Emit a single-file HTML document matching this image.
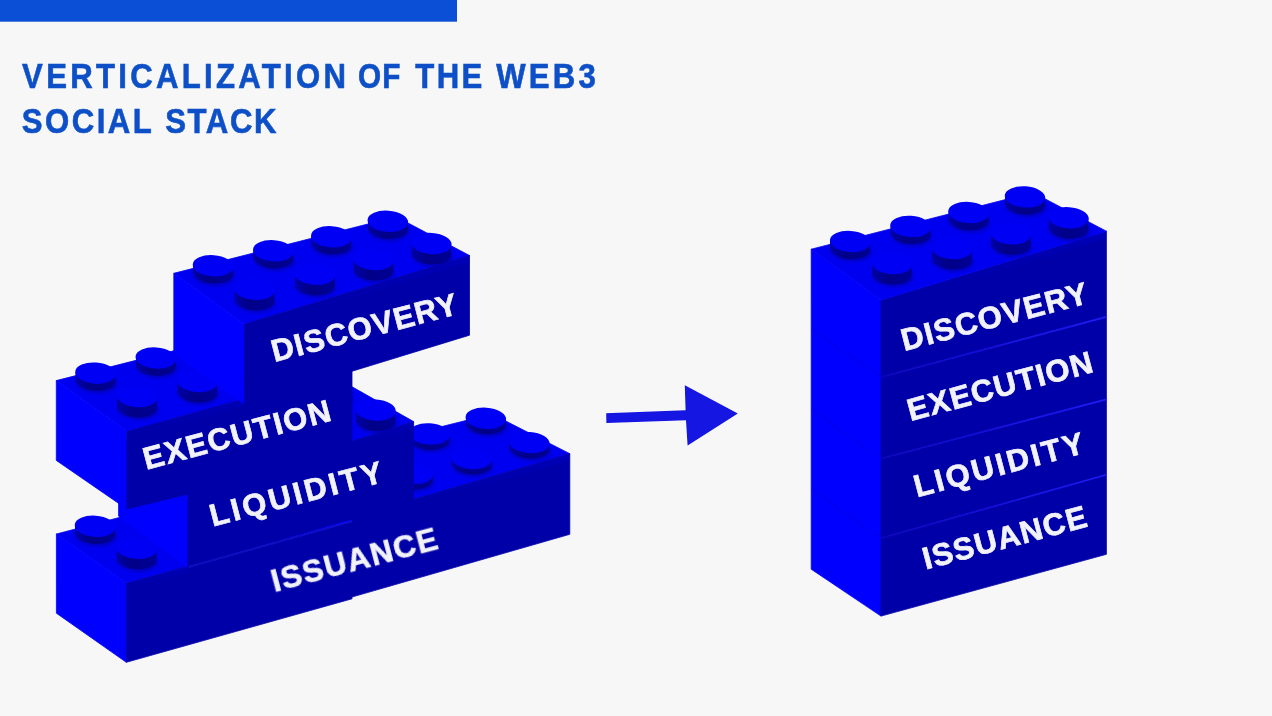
<!DOCTYPE html>
<html><head><meta charset="utf-8"><title>Verticalization of the Web3 Social Stack</title>
<style>
html,body{margin:0;padding:0;background:#f7f7f7;}
body{width:1272px;height:716px;overflow:hidden;font-family:"Liberation Sans",sans-serif;}
svg{display:block;position:absolute;left:0;top:0;}
text{font-family:"Liberation Sans",sans-serif;font-weight:bold;}
</style></head><body>
<svg width="1272" height="716" viewBox="0 0 1272 716">
<defs>
<filter id="b2" x="-30%" y="-30%" width="160%" height="160%"><feGaussianBlur stdDeviation="1.5"/></filter>
<filter id="b3" x="-10%" y="-20%" width="120%" height="140%"><feGaussianBlur stdDeviation="0.7"/></filter>
<filter id="b1" x="-5%" y="-5%" width="110%" height="110%"><feGaussianBlur stdDeviation="0.55"/></filter>
<filter id="bt" x="-5%" y="-20%" width="110%" height="140%"><feGaussianBlur stdDeviation="0.45"/></filter>
<linearGradient id="gs" x1="0" y1="0" x2="1" y2="0"><stop offset="0" stop-color="#0000a8"/><stop offset=".4" stop-color="#000088"/><stop offset="1" stop-color="#000094"/></linearGradient>
<linearGradient id="gb" x1="0" y1="0" x2="0.3" y2="1"><stop offset="0" stop-color="#0000e0"/><stop offset="1" stop-color="#0500a8" stop-opacity="0"/></linearGradient>
<linearGradient id="gsm" x1="0" y1="0" x2="1" y2="0"><stop offset="0" stop-color="#1818f8" stop-opacity=".25"/><stop offset=".5" stop-color="#1c1cff" stop-opacity=".6"/><stop offset="1" stop-color="#2020ff" stop-opacity=".9"/></linearGradient>
</defs>
<rect width="1272" height="716" fill="#f7f7f7"/>
<rect x="0" y="0" width="457" height="21.7" fill="#0b4fd6"/>

<g filter="url(#bt)">
<text transform="translate(22.30 87.8) scale(0.9000 1)" x="-0.21" y="0" font-size="34.6" letter-spacing="3.654" fill="#0e50c6" stroke="#0e50c6" stroke-width=".6">VERTICALIZATION</text>
<text transform="translate(359.10 87.8) scale(0.8592 1)" x="-1.42" y="0" font-size="34.6" letter-spacing="1.513" fill="#0e50c6" stroke="#0e50c6" stroke-width=".6">OF</text>
<text transform="translate(415.70 87.8) scale(0.9000 1)" x="-0.38" y="0" font-size="34.6" letter-spacing="2.598" fill="#0e50c6" stroke="#0e50c6" stroke-width=".6">THE</text>
<text transform="translate(496.20 87.8) scale(0.9000 1)" x="-0.03" y="0" font-size="34.6" letter-spacing="3.614" fill="#0e50c6" stroke="#0e50c6" stroke-width=".6">WEB3</text>
<text transform="translate(22.60 132.7) scale(0.9000 1)" x="-0.97" y="0" font-size="34.6" letter-spacing="2.769" fill="#0e50c6" stroke="#0e50c6" stroke-width=".6">SOCIAL</text>
<text transform="translate(166.00 132.7) scale(0.9000 1)" x="-0.97" y="0" font-size="34.6" letter-spacing="1.781" fill="#0e50c6" stroke="#0e50c6" stroke-width=".6">STACK</text>
</g>
<g filter="url(#b1)">
<polygon points="274.3,468.4 492.0,414.0 569.8,453.7 344.8,519.4" fill="#0000f1" stroke="#0000f1" stroke-width="0.8"/>
<polygon points="274.3,468.4 344.8,519.4 344.8,599.1 274.3,548.1" fill="#0000fe" stroke="#0000fe" stroke-width="0.8"/>
<polygon points="344.8,519.4 569.8,453.7 569.8,534.3 344.8,599.1" fill="#0500a8" stroke="#0500a8" stroke-width="0.8"/>
<polygon points="413.6,499.3 569.8,453.7 569.8,460.7 413.6,506.3" fill="url(#gb)" opacity=".55"/>
<g filter="url(#b2)">
<ellipse cx="312.0" cy="470.5" rx="21.0" ry="11.0" transform="rotate(4 311.0 468.7)" fill="#0000a8" opacity=".6"/>
</g><g filter="url(#b3)">
<g fill="url(#gs)"><ellipse cx="311.0" cy="468.70" rx="19.8" ry="10.20" transform="rotate(4 311.0 468.70)"/><ellipse cx="311.0" cy="468.12" rx="19.8" ry="10.20" transform="rotate(4 311.0 468.12)"/><ellipse cx="311.0" cy="467.54" rx="19.8" ry="10.20" transform="rotate(4 311.0 467.54)"/><ellipse cx="311.0" cy="466.96" rx="19.8" ry="10.20" transform="rotate(4 311.0 466.96)"/><ellipse cx="311.0" cy="466.38" rx="19.8" ry="10.20" transform="rotate(4 311.0 466.38)"/><ellipse cx="311.0" cy="465.80" rx="19.8" ry="10.20" transform="rotate(4 311.0 465.80)"/><ellipse cx="311.0" cy="465.22" rx="19.8" ry="10.20" transform="rotate(4 311.0 465.22)"/><ellipse cx="311.0" cy="464.64" rx="19.8" ry="10.20" transform="rotate(4 311.0 464.64)"/><ellipse cx="311.0" cy="464.06" rx="19.8" ry="10.20" transform="rotate(4 311.0 464.06)"/><ellipse cx="311.0" cy="463.48" rx="19.8" ry="10.20" transform="rotate(4 311.0 463.48)"/></g></g>
<ellipse cx="311.0" cy="462.9" rx="20.3" ry="10.6" transform="rotate(4 311.0 462.9)" fill="#0000f5"/>
<g filter="url(#b2)">
<ellipse cx="372.3" cy="455.4" rx="21.0" ry="11.0" transform="rotate(4 371.3 453.6)" fill="#0000a8" opacity=".6"/>
</g><g filter="url(#b3)">
<g fill="url(#gs)"><ellipse cx="371.3" cy="453.60" rx="19.8" ry="10.20" transform="rotate(4 371.3 453.60)"/><ellipse cx="371.3" cy="453.02" rx="19.8" ry="10.20" transform="rotate(4 371.3 453.02)"/><ellipse cx="371.3" cy="452.44" rx="19.8" ry="10.20" transform="rotate(4 371.3 452.44)"/><ellipse cx="371.3" cy="451.86" rx="19.8" ry="10.20" transform="rotate(4 371.3 451.86)"/><ellipse cx="371.3" cy="451.28" rx="19.8" ry="10.20" transform="rotate(4 371.3 451.28)"/><ellipse cx="371.3" cy="450.70" rx="19.8" ry="10.20" transform="rotate(4 371.3 450.70)"/><ellipse cx="371.3" cy="450.12" rx="19.8" ry="10.20" transform="rotate(4 371.3 450.12)"/><ellipse cx="371.3" cy="449.54" rx="19.8" ry="10.20" transform="rotate(4 371.3 449.54)"/><ellipse cx="371.3" cy="448.96" rx="19.8" ry="10.20" transform="rotate(4 371.3 448.96)"/><ellipse cx="371.3" cy="448.38" rx="19.8" ry="10.20" transform="rotate(4 371.3 448.38)"/></g></g>
<ellipse cx="371.3" cy="447.8" rx="20.3" ry="10.6" transform="rotate(4 371.3 447.8)" fill="#0000f5"/>
<g filter="url(#b2)">
<ellipse cx="430.3" cy="441.5" rx="21.0" ry="11.0" transform="rotate(4 429.3 439.7)" fill="#0000a8" opacity=".6"/>
</g><g filter="url(#b3)">
<g fill="url(#gs)"><ellipse cx="429.3" cy="439.70" rx="19.8" ry="10.20" transform="rotate(4 429.3 439.70)"/><ellipse cx="429.3" cy="439.12" rx="19.8" ry="10.20" transform="rotate(4 429.3 439.12)"/><ellipse cx="429.3" cy="438.54" rx="19.8" ry="10.20" transform="rotate(4 429.3 438.54)"/><ellipse cx="429.3" cy="437.96" rx="19.8" ry="10.20" transform="rotate(4 429.3 437.96)"/><ellipse cx="429.3" cy="437.38" rx="19.8" ry="10.20" transform="rotate(4 429.3 437.38)"/><ellipse cx="429.3" cy="436.80" rx="19.8" ry="10.20" transform="rotate(4 429.3 436.80)"/><ellipse cx="429.3" cy="436.22" rx="19.8" ry="10.20" transform="rotate(4 429.3 436.22)"/><ellipse cx="429.3" cy="435.64" rx="19.8" ry="10.20" transform="rotate(4 429.3 435.64)"/><ellipse cx="429.3" cy="435.06" rx="19.8" ry="10.20" transform="rotate(4 429.3 435.06)"/><ellipse cx="429.3" cy="434.48" rx="19.8" ry="10.20" transform="rotate(4 429.3 434.48)"/></g></g>
<ellipse cx="429.3" cy="433.9" rx="20.3" ry="10.6" transform="rotate(4 429.3 433.9)" fill="#0000f5"/>
<g filter="url(#b2)">
<ellipse cx="486.8" cy="425.9" rx="21.0" ry="11.0" transform="rotate(4 485.8 424.1)" fill="#0000a8" opacity=".6"/>
</g><g filter="url(#b3)">
<g fill="url(#gs)"><ellipse cx="485.8" cy="424.10" rx="19.8" ry="10.20" transform="rotate(4 485.8 424.10)"/><ellipse cx="485.8" cy="423.52" rx="19.8" ry="10.20" transform="rotate(4 485.8 423.52)"/><ellipse cx="485.8" cy="422.94" rx="19.8" ry="10.20" transform="rotate(4 485.8 422.94)"/><ellipse cx="485.8" cy="422.36" rx="19.8" ry="10.20" transform="rotate(4 485.8 422.36)"/><ellipse cx="485.8" cy="421.78" rx="19.8" ry="10.20" transform="rotate(4 485.8 421.78)"/><ellipse cx="485.8" cy="421.20" rx="19.8" ry="10.20" transform="rotate(4 485.8 421.20)"/><ellipse cx="485.8" cy="420.62" rx="19.8" ry="10.20" transform="rotate(4 485.8 420.62)"/><ellipse cx="485.8" cy="420.04" rx="19.8" ry="10.20" transform="rotate(4 485.8 420.04)"/><ellipse cx="485.8" cy="419.46" rx="19.8" ry="10.20" transform="rotate(4 485.8 419.46)"/><ellipse cx="485.8" cy="418.88" rx="19.8" ry="10.20" transform="rotate(4 485.8 418.88)"/></g></g>
<ellipse cx="485.8" cy="418.3" rx="20.3" ry="10.6" transform="rotate(4 485.8 418.3)" fill="#0000f5"/>
<g filter="url(#b2)">
<ellipse cx="353.5" cy="496.0" rx="21.0" ry="11.0" transform="rotate(4 352.5 494.2)" fill="#0000a8" opacity=".6"/>
</g><g filter="url(#b3)">
<g fill="url(#gs)"><ellipse cx="352.5" cy="494.20" rx="19.8" ry="10.20" transform="rotate(4 352.5 494.20)"/><ellipse cx="352.5" cy="493.62" rx="19.8" ry="10.20" transform="rotate(4 352.5 493.62)"/><ellipse cx="352.5" cy="493.04" rx="19.8" ry="10.20" transform="rotate(4 352.5 493.04)"/><ellipse cx="352.5" cy="492.46" rx="19.8" ry="10.20" transform="rotate(4 352.5 492.46)"/><ellipse cx="352.5" cy="491.88" rx="19.8" ry="10.20" transform="rotate(4 352.5 491.88)"/><ellipse cx="352.5" cy="491.30" rx="19.8" ry="10.20" transform="rotate(4 352.5 491.30)"/><ellipse cx="352.5" cy="490.72" rx="19.8" ry="10.20" transform="rotate(4 352.5 490.72)"/><ellipse cx="352.5" cy="490.14" rx="19.8" ry="10.20" transform="rotate(4 352.5 490.14)"/><ellipse cx="352.5" cy="489.56" rx="19.8" ry="10.20" transform="rotate(4 352.5 489.56)"/><ellipse cx="352.5" cy="488.98" rx="19.8" ry="10.20" transform="rotate(4 352.5 488.98)"/></g></g>
<ellipse cx="352.5" cy="488.4" rx="20.3" ry="10.6" transform="rotate(4 352.5 488.4)" fill="#0000f5"/>
<g filter="url(#b2)">
<ellipse cx="413.8" cy="481.0" rx="21.0" ry="11.0" transform="rotate(4 412.8 479.2)" fill="#0000a8" opacity=".6"/>
</g><g filter="url(#b3)">
<g fill="url(#gs)"><ellipse cx="412.8" cy="479.20" rx="19.8" ry="10.20" transform="rotate(4 412.8 479.20)"/><ellipse cx="412.8" cy="478.62" rx="19.8" ry="10.20" transform="rotate(4 412.8 478.62)"/><ellipse cx="412.8" cy="478.04" rx="19.8" ry="10.20" transform="rotate(4 412.8 478.04)"/><ellipse cx="412.8" cy="477.46" rx="19.8" ry="10.20" transform="rotate(4 412.8 477.46)"/><ellipse cx="412.8" cy="476.88" rx="19.8" ry="10.20" transform="rotate(4 412.8 476.88)"/><ellipse cx="412.8" cy="476.30" rx="19.8" ry="10.20" transform="rotate(4 412.8 476.30)"/><ellipse cx="412.8" cy="475.72" rx="19.8" ry="10.20" transform="rotate(4 412.8 475.72)"/><ellipse cx="412.8" cy="475.14" rx="19.8" ry="10.20" transform="rotate(4 412.8 475.14)"/><ellipse cx="412.8" cy="474.56" rx="19.8" ry="10.20" transform="rotate(4 412.8 474.56)"/><ellipse cx="412.8" cy="473.98" rx="19.8" ry="10.20" transform="rotate(4 412.8 473.98)"/></g></g>
<ellipse cx="412.8" cy="473.4" rx="20.3" ry="10.6" transform="rotate(4 412.8 473.4)" fill="#0000f5"/>
<g filter="url(#b2)">
<ellipse cx="472.5" cy="466.2" rx="21.0" ry="11.0" transform="rotate(4 471.5 464.4)" fill="#0000a8" opacity=".6"/>
</g><g filter="url(#b3)">
<g fill="url(#gs)"><ellipse cx="471.5" cy="464.40" rx="19.8" ry="10.20" transform="rotate(4 471.5 464.40)"/><ellipse cx="471.5" cy="463.82" rx="19.8" ry="10.20" transform="rotate(4 471.5 463.82)"/><ellipse cx="471.5" cy="463.24" rx="19.8" ry="10.20" transform="rotate(4 471.5 463.24)"/><ellipse cx="471.5" cy="462.66" rx="19.8" ry="10.20" transform="rotate(4 471.5 462.66)"/><ellipse cx="471.5" cy="462.08" rx="19.8" ry="10.20" transform="rotate(4 471.5 462.08)"/><ellipse cx="471.5" cy="461.50" rx="19.8" ry="10.20" transform="rotate(4 471.5 461.50)"/><ellipse cx="471.5" cy="460.92" rx="19.8" ry="10.20" transform="rotate(4 471.5 460.92)"/><ellipse cx="471.5" cy="460.34" rx="19.8" ry="10.20" transform="rotate(4 471.5 460.34)"/><ellipse cx="471.5" cy="459.76" rx="19.8" ry="10.20" transform="rotate(4 471.5 459.76)"/><ellipse cx="471.5" cy="459.18" rx="19.8" ry="10.20" transform="rotate(4 471.5 459.18)"/></g></g>
<ellipse cx="471.5" cy="458.6" rx="20.3" ry="10.6" transform="rotate(4 471.5 458.6)" fill="#0000f5"/>
<g filter="url(#b2)">
<ellipse cx="530.3" cy="450.2" rx="21.0" ry="11.0" transform="rotate(4 529.3 448.4)" fill="#0000a8" opacity=".6"/>
</g><g filter="url(#b3)">
<g fill="url(#gs)"><ellipse cx="529.3" cy="448.40" rx="19.8" ry="10.20" transform="rotate(4 529.3 448.40)"/><ellipse cx="529.3" cy="447.82" rx="19.8" ry="10.20" transform="rotate(4 529.3 447.82)"/><ellipse cx="529.3" cy="447.24" rx="19.8" ry="10.20" transform="rotate(4 529.3 447.24)"/><ellipse cx="529.3" cy="446.66" rx="19.8" ry="10.20" transform="rotate(4 529.3 446.66)"/><ellipse cx="529.3" cy="446.08" rx="19.8" ry="10.20" transform="rotate(4 529.3 446.08)"/><ellipse cx="529.3" cy="445.50" rx="19.8" ry="10.20" transform="rotate(4 529.3 445.50)"/><ellipse cx="529.3" cy="444.92" rx="19.8" ry="10.20" transform="rotate(4 529.3 444.92)"/><ellipse cx="529.3" cy="444.34" rx="19.8" ry="10.20" transform="rotate(4 529.3 444.34)"/><ellipse cx="529.3" cy="443.76" rx="19.8" ry="10.20" transform="rotate(4 529.3 443.76)"/><ellipse cx="529.3" cy="443.18" rx="19.8" ry="10.20" transform="rotate(4 529.3 443.18)"/></g></g>
<ellipse cx="529.3" cy="442.6" rx="20.3" ry="10.6" transform="rotate(4 529.3 442.6)" fill="#0000f5"/>
<polygon points="56.4,534.0 278.3,475.8 352.0,521.3 126.3,583.3" fill="#0000f1" stroke="#0000f1" stroke-width="0.8"/>
<polygon points="56.4,534.0 126.3,583.3 126.3,662.3 56.4,613.2" fill="#0000fe" stroke="#0000fe" stroke-width="0.8"/>
<polygon points="126.3,583.3 352.0,521.3 352.0,598.8 126.3,662.3" fill="#0500a8" stroke="#0500a8" stroke-width="0.8"/>
<polygon points="126.3,583.3 188.4,566.2 188.4,573.2 126.3,590.3" fill="url(#gb)" opacity=".55"/>
<g filter="url(#b2)">
<ellipse cx="96.0" cy="535.6" rx="21.0" ry="11.0" transform="rotate(4 95.0 533.8)" fill="#0000a8" opacity=".6"/>
</g><g filter="url(#b3)">
<g fill="url(#gs)"><ellipse cx="95.0" cy="533.80" rx="19.8" ry="10.20" transform="rotate(4 95.0 533.80)"/><ellipse cx="95.0" cy="533.05" rx="19.8" ry="10.20" transform="rotate(4 95.0 533.05)"/><ellipse cx="95.0" cy="532.30" rx="19.8" ry="10.20" transform="rotate(4 95.0 532.30)"/><ellipse cx="95.0" cy="531.55" rx="19.8" ry="10.20" transform="rotate(4 95.0 531.55)"/><ellipse cx="95.0" cy="530.80" rx="19.8" ry="10.20" transform="rotate(4 95.0 530.80)"/><ellipse cx="95.0" cy="530.05" rx="19.8" ry="10.20" transform="rotate(4 95.0 530.05)"/><ellipse cx="95.0" cy="529.30" rx="19.8" ry="10.20" transform="rotate(4 95.0 529.30)"/><ellipse cx="95.0" cy="528.55" rx="19.8" ry="10.20" transform="rotate(4 95.0 528.55)"/><ellipse cx="95.0" cy="527.80" rx="19.8" ry="10.20" transform="rotate(4 95.0 527.80)"/><ellipse cx="95.0" cy="527.05" rx="19.8" ry="10.20" transform="rotate(4 95.0 527.05)"/></g></g>
<ellipse cx="95.0" cy="526.3" rx="20.3" ry="10.6" transform="rotate(4 95.0 526.3)" fill="#0000f5"/>
<g filter="url(#b2)">
<ellipse cx="156.3" cy="520.5" rx="21.0" ry="11.0" transform="rotate(4 155.3 518.7)" fill="#0000a8" opacity=".6"/>
</g><g filter="url(#b3)">
<g fill="url(#gs)"><ellipse cx="155.3" cy="518.70" rx="19.8" ry="10.20" transform="rotate(4 155.3 518.70)"/><ellipse cx="155.3" cy="517.95" rx="19.8" ry="10.20" transform="rotate(4 155.3 517.95)"/><ellipse cx="155.3" cy="517.20" rx="19.8" ry="10.20" transform="rotate(4 155.3 517.20)"/><ellipse cx="155.3" cy="516.45" rx="19.8" ry="10.20" transform="rotate(4 155.3 516.45)"/><ellipse cx="155.3" cy="515.70" rx="19.8" ry="10.20" transform="rotate(4 155.3 515.70)"/><ellipse cx="155.3" cy="514.95" rx="19.8" ry="10.20" transform="rotate(4 155.3 514.95)"/><ellipse cx="155.3" cy="514.20" rx="19.8" ry="10.20" transform="rotate(4 155.3 514.20)"/><ellipse cx="155.3" cy="513.45" rx="19.8" ry="10.20" transform="rotate(4 155.3 513.45)"/><ellipse cx="155.3" cy="512.70" rx="19.8" ry="10.20" transform="rotate(4 155.3 512.70)"/><ellipse cx="155.3" cy="511.95" rx="19.8" ry="10.20" transform="rotate(4 155.3 511.95)"/></g></g>
<ellipse cx="155.3" cy="511.2" rx="20.3" ry="10.6" transform="rotate(4 155.3 511.2)" fill="#0000f5"/>
<g filter="url(#b2)">
<ellipse cx="214.3" cy="506.6" rx="21.0" ry="11.0" transform="rotate(4 213.3 504.8)" fill="#0000a8" opacity=".6"/>
</g><g filter="url(#b3)">
<g fill="url(#gs)"><ellipse cx="213.3" cy="504.80" rx="19.8" ry="10.20" transform="rotate(4 213.3 504.80)"/><ellipse cx="213.3" cy="504.05" rx="19.8" ry="10.20" transform="rotate(4 213.3 504.05)"/><ellipse cx="213.3" cy="503.30" rx="19.8" ry="10.20" transform="rotate(4 213.3 503.30)"/><ellipse cx="213.3" cy="502.55" rx="19.8" ry="10.20" transform="rotate(4 213.3 502.55)"/><ellipse cx="213.3" cy="501.80" rx="19.8" ry="10.20" transform="rotate(4 213.3 501.80)"/><ellipse cx="213.3" cy="501.05" rx="19.8" ry="10.20" transform="rotate(4 213.3 501.05)"/><ellipse cx="213.3" cy="500.30" rx="19.8" ry="10.20" transform="rotate(4 213.3 500.30)"/><ellipse cx="213.3" cy="499.55" rx="19.8" ry="10.20" transform="rotate(4 213.3 499.55)"/><ellipse cx="213.3" cy="498.80" rx="19.8" ry="10.20" transform="rotate(4 213.3 498.80)"/><ellipse cx="213.3" cy="498.05" rx="19.8" ry="10.20" transform="rotate(4 213.3 498.05)"/></g></g>
<ellipse cx="213.3" cy="497.3" rx="20.3" ry="10.6" transform="rotate(4 213.3 497.3)" fill="#0000f5"/>
<g filter="url(#b2)">
<ellipse cx="270.8" cy="491.0" rx="21.0" ry="11.0" transform="rotate(4 269.8 489.2)" fill="#0000a8" opacity=".6"/>
</g><g filter="url(#b3)">
<g fill="url(#gs)"><ellipse cx="269.8" cy="489.20" rx="19.8" ry="10.20" transform="rotate(4 269.8 489.20)"/><ellipse cx="269.8" cy="488.45" rx="19.8" ry="10.20" transform="rotate(4 269.8 488.45)"/><ellipse cx="269.8" cy="487.70" rx="19.8" ry="10.20" transform="rotate(4 269.8 487.70)"/><ellipse cx="269.8" cy="486.95" rx="19.8" ry="10.20" transform="rotate(4 269.8 486.95)"/><ellipse cx="269.8" cy="486.20" rx="19.8" ry="10.20" transform="rotate(4 269.8 486.20)"/><ellipse cx="269.8" cy="485.45" rx="19.8" ry="10.20" transform="rotate(4 269.8 485.45)"/><ellipse cx="269.8" cy="484.70" rx="19.8" ry="10.20" transform="rotate(4 269.8 484.70)"/><ellipse cx="269.8" cy="483.95" rx="19.8" ry="10.20" transform="rotate(4 269.8 483.95)"/><ellipse cx="269.8" cy="483.20" rx="19.8" ry="10.20" transform="rotate(4 269.8 483.20)"/><ellipse cx="269.8" cy="482.45" rx="19.8" ry="10.20" transform="rotate(4 269.8 482.45)"/></g></g>
<ellipse cx="269.8" cy="481.7" rx="20.3" ry="10.6" transform="rotate(4 269.8 481.7)" fill="#0000f5"/>
<g filter="url(#b2)">
<ellipse cx="137.5" cy="560.9" rx="21.0" ry="11.0" transform="rotate(4 136.5 559.1)" fill="#0000a8" opacity=".6"/>
</g><g filter="url(#b3)">
<g fill="url(#gs)"><ellipse cx="136.5" cy="559.10" rx="19.8" ry="10.20" transform="rotate(4 136.5 559.10)"/><ellipse cx="136.5" cy="558.02" rx="19.8" ry="10.20" transform="rotate(4 136.5 558.02)"/><ellipse cx="136.5" cy="556.94" rx="19.8" ry="10.20" transform="rotate(4 136.5 556.94)"/><ellipse cx="136.5" cy="555.86" rx="19.8" ry="10.20" transform="rotate(4 136.5 555.86)"/><ellipse cx="136.5" cy="554.78" rx="19.8" ry="10.20" transform="rotate(4 136.5 554.78)"/><ellipse cx="136.5" cy="553.70" rx="19.8" ry="10.20" transform="rotate(4 136.5 553.70)"/><ellipse cx="136.5" cy="552.62" rx="19.8" ry="10.20" transform="rotate(4 136.5 552.62)"/><ellipse cx="136.5" cy="551.54" rx="19.8" ry="10.20" transform="rotate(4 136.5 551.54)"/><ellipse cx="136.5" cy="550.46" rx="19.8" ry="10.20" transform="rotate(4 136.5 550.46)"/><ellipse cx="136.5" cy="549.38" rx="19.8" ry="10.20" transform="rotate(4 136.5 549.38)"/></g></g>
<ellipse cx="136.5" cy="548.3" rx="20.3" ry="10.6" transform="rotate(4 136.5 548.3)" fill="#0000f5"/>
<g filter="url(#b2)">
<ellipse cx="197.8" cy="545.9" rx="21.0" ry="11.0" transform="rotate(4 196.8 544.1)" fill="#0000a8" opacity=".6"/>
</g><g filter="url(#b3)">
<g fill="url(#gs)"><ellipse cx="196.8" cy="544.10" rx="19.8" ry="10.20" transform="rotate(4 196.8 544.10)"/><ellipse cx="196.8" cy="543.02" rx="19.8" ry="10.20" transform="rotate(4 196.8 543.02)"/><ellipse cx="196.8" cy="541.94" rx="19.8" ry="10.20" transform="rotate(4 196.8 541.94)"/><ellipse cx="196.8" cy="540.86" rx="19.8" ry="10.20" transform="rotate(4 196.8 540.86)"/><ellipse cx="196.8" cy="539.78" rx="19.8" ry="10.20" transform="rotate(4 196.8 539.78)"/><ellipse cx="196.8" cy="538.70" rx="19.8" ry="10.20" transform="rotate(4 196.8 538.70)"/><ellipse cx="196.8" cy="537.62" rx="19.8" ry="10.20" transform="rotate(4 196.8 537.62)"/><ellipse cx="196.8" cy="536.54" rx="19.8" ry="10.20" transform="rotate(4 196.8 536.54)"/><ellipse cx="196.8" cy="535.46" rx="19.8" ry="10.20" transform="rotate(4 196.8 535.46)"/><ellipse cx="196.8" cy="534.38" rx="19.8" ry="10.20" transform="rotate(4 196.8 534.38)"/></g></g>
<ellipse cx="196.8" cy="533.3" rx="20.3" ry="10.6" transform="rotate(4 196.8 533.3)" fill="#0000f5"/>
<g filter="url(#b2)">
<ellipse cx="256.5" cy="531.1" rx="21.0" ry="11.0" transform="rotate(4 255.5 529.3)" fill="#0000a8" opacity=".6"/>
</g><g filter="url(#b3)">
<g fill="url(#gs)"><ellipse cx="255.5" cy="529.30" rx="19.8" ry="10.20" transform="rotate(4 255.5 529.30)"/><ellipse cx="255.5" cy="528.22" rx="19.8" ry="10.20" transform="rotate(4 255.5 528.22)"/><ellipse cx="255.5" cy="527.14" rx="19.8" ry="10.20" transform="rotate(4 255.5 527.14)"/><ellipse cx="255.5" cy="526.06" rx="19.8" ry="10.20" transform="rotate(4 255.5 526.06)"/><ellipse cx="255.5" cy="524.98" rx="19.8" ry="10.20" transform="rotate(4 255.5 524.98)"/><ellipse cx="255.5" cy="523.90" rx="19.8" ry="10.20" transform="rotate(4 255.5 523.90)"/><ellipse cx="255.5" cy="522.82" rx="19.8" ry="10.20" transform="rotate(4 255.5 522.82)"/><ellipse cx="255.5" cy="521.74" rx="19.8" ry="10.20" transform="rotate(4 255.5 521.74)"/><ellipse cx="255.5" cy="520.66" rx="19.8" ry="10.20" transform="rotate(4 255.5 520.66)"/><ellipse cx="255.5" cy="519.58" rx="19.8" ry="10.20" transform="rotate(4 255.5 519.58)"/></g></g>
<ellipse cx="255.5" cy="518.5" rx="20.3" ry="10.6" transform="rotate(4 255.5 518.5)" fill="#0000f5"/>
<g filter="url(#b2)">
<ellipse cx="314.3" cy="515.1" rx="21.0" ry="11.0" transform="rotate(4 313.3 513.3)" fill="#0000a8" opacity=".6"/>
</g><g filter="url(#b3)">
<g fill="url(#gs)"><ellipse cx="313.3" cy="513.30" rx="19.8" ry="10.20" transform="rotate(4 313.3 513.30)"/><ellipse cx="313.3" cy="512.22" rx="19.8" ry="10.20" transform="rotate(4 313.3 512.22)"/><ellipse cx="313.3" cy="511.14" rx="19.8" ry="10.20" transform="rotate(4 313.3 511.14)"/><ellipse cx="313.3" cy="510.06" rx="19.8" ry="10.20" transform="rotate(4 313.3 510.06)"/><ellipse cx="313.3" cy="508.98" rx="19.8" ry="10.20" transform="rotate(4 313.3 508.98)"/><ellipse cx="313.3" cy="507.90" rx="19.8" ry="10.20" transform="rotate(4 313.3 507.90)"/><ellipse cx="313.3" cy="506.82" rx="19.8" ry="10.20" transform="rotate(4 313.3 506.82)"/><ellipse cx="313.3" cy="505.74" rx="19.8" ry="10.20" transform="rotate(4 313.3 505.74)"/><ellipse cx="313.3" cy="504.66" rx="19.8" ry="10.20" transform="rotate(4 313.3 504.66)"/><ellipse cx="313.3" cy="503.58" rx="19.8" ry="10.20" transform="rotate(4 313.3 503.58)"/></g></g>
<ellipse cx="313.3" cy="502.5" rx="20.3" ry="10.6" transform="rotate(4 313.3 502.5)" fill="#0000f5"/>
<polygon points="118.6,442.9 340.2,380.1 413.6,421.6 187.8,493.9" fill="#0000f1" stroke="#0000f1" stroke-width="0.8"/>
<polygon points="118.6,442.9 187.8,493.9 187.8,567.2 118.6,516.2" fill="#0000fe" stroke="#0000fe" stroke-width="0.8"/>
<polygon points="187.8,493.9 413.6,421.6 413.6,500.6 187.8,567.2" fill="#0500a8" stroke="#0500a8" stroke-width="0.8"/>
<polygon points="352.6,441.1 413.6,421.6 413.6,428.6 352.6,448.1" fill="url(#gb)" opacity=".55"/>
<g filter="url(#b2)">
<ellipse cx="158.2" cy="441.7" rx="21.0" ry="11.0" transform="rotate(4 157.2 439.9)" fill="#0000a8" opacity=".6"/>
</g><g filter="url(#b3)">
<g fill="url(#gs)"><ellipse cx="157.2" cy="439.90" rx="19.8" ry="10.20" transform="rotate(4 157.2 439.90)"/><ellipse cx="157.2" cy="439.15" rx="19.8" ry="10.20" transform="rotate(4 157.2 439.15)"/><ellipse cx="157.2" cy="438.40" rx="19.8" ry="10.20" transform="rotate(4 157.2 438.40)"/><ellipse cx="157.2" cy="437.65" rx="19.8" ry="10.20" transform="rotate(4 157.2 437.65)"/><ellipse cx="157.2" cy="436.90" rx="19.8" ry="10.20" transform="rotate(4 157.2 436.90)"/><ellipse cx="157.2" cy="436.15" rx="19.8" ry="10.20" transform="rotate(4 157.2 436.15)"/><ellipse cx="157.2" cy="435.40" rx="19.8" ry="10.20" transform="rotate(4 157.2 435.40)"/><ellipse cx="157.2" cy="434.65" rx="19.8" ry="10.20" transform="rotate(4 157.2 434.65)"/><ellipse cx="157.2" cy="433.90" rx="19.8" ry="10.20" transform="rotate(4 157.2 433.90)"/><ellipse cx="157.2" cy="433.15" rx="19.8" ry="10.20" transform="rotate(4 157.2 433.15)"/></g></g>
<ellipse cx="157.2" cy="432.4" rx="20.3" ry="10.6" transform="rotate(4 157.2 432.4)" fill="#0000f5"/>
<g filter="url(#b2)">
<ellipse cx="218.5" cy="426.6" rx="21.0" ry="11.0" transform="rotate(4 217.5 424.8)" fill="#0000a8" opacity=".6"/>
</g><g filter="url(#b3)">
<g fill="url(#gs)"><ellipse cx="217.5" cy="424.80" rx="19.8" ry="10.20" transform="rotate(4 217.5 424.80)"/><ellipse cx="217.5" cy="424.05" rx="19.8" ry="10.20" transform="rotate(4 217.5 424.05)"/><ellipse cx="217.5" cy="423.30" rx="19.8" ry="10.20" transform="rotate(4 217.5 423.30)"/><ellipse cx="217.5" cy="422.55" rx="19.8" ry="10.20" transform="rotate(4 217.5 422.55)"/><ellipse cx="217.5" cy="421.80" rx="19.8" ry="10.20" transform="rotate(4 217.5 421.80)"/><ellipse cx="217.5" cy="421.05" rx="19.8" ry="10.20" transform="rotate(4 217.5 421.05)"/><ellipse cx="217.5" cy="420.30" rx="19.8" ry="10.20" transform="rotate(4 217.5 420.30)"/><ellipse cx="217.5" cy="419.55" rx="19.8" ry="10.20" transform="rotate(4 217.5 419.55)"/><ellipse cx="217.5" cy="418.80" rx="19.8" ry="10.20" transform="rotate(4 217.5 418.80)"/><ellipse cx="217.5" cy="418.05" rx="19.8" ry="10.20" transform="rotate(4 217.5 418.05)"/></g></g>
<ellipse cx="217.5" cy="417.3" rx="20.3" ry="10.6" transform="rotate(4 217.5 417.3)" fill="#0000f5"/>
<g filter="url(#b2)">
<ellipse cx="276.5" cy="412.7" rx="21.0" ry="11.0" transform="rotate(4 275.5 410.9)" fill="#0000a8" opacity=".6"/>
</g><g filter="url(#b3)">
<g fill="url(#gs)"><ellipse cx="275.5" cy="410.90" rx="19.8" ry="10.20" transform="rotate(4 275.5 410.90)"/><ellipse cx="275.5" cy="410.15" rx="19.8" ry="10.20" transform="rotate(4 275.5 410.15)"/><ellipse cx="275.5" cy="409.40" rx="19.8" ry="10.20" transform="rotate(4 275.5 409.40)"/><ellipse cx="275.5" cy="408.65" rx="19.8" ry="10.20" transform="rotate(4 275.5 408.65)"/><ellipse cx="275.5" cy="407.90" rx="19.8" ry="10.20" transform="rotate(4 275.5 407.90)"/><ellipse cx="275.5" cy="407.15" rx="19.8" ry="10.20" transform="rotate(4 275.5 407.15)"/><ellipse cx="275.5" cy="406.40" rx="19.8" ry="10.20" transform="rotate(4 275.5 406.40)"/><ellipse cx="275.5" cy="405.65" rx="19.8" ry="10.20" transform="rotate(4 275.5 405.65)"/><ellipse cx="275.5" cy="404.90" rx="19.8" ry="10.20" transform="rotate(4 275.5 404.90)"/><ellipse cx="275.5" cy="404.15" rx="19.8" ry="10.20" transform="rotate(4 275.5 404.15)"/></g></g>
<ellipse cx="275.5" cy="403.4" rx="20.3" ry="10.6" transform="rotate(4 275.5 403.4)" fill="#0000f5"/>
<g filter="url(#b2)">
<ellipse cx="333.0" cy="397.1" rx="21.0" ry="11.0" transform="rotate(4 332.0 395.3)" fill="#0000a8" opacity=".6"/>
</g><g filter="url(#b3)">
<g fill="url(#gs)"><ellipse cx="332.0" cy="395.30" rx="19.8" ry="10.20" transform="rotate(4 332.0 395.30)"/><ellipse cx="332.0" cy="394.55" rx="19.8" ry="10.20" transform="rotate(4 332.0 394.55)"/><ellipse cx="332.0" cy="393.80" rx="19.8" ry="10.20" transform="rotate(4 332.0 393.80)"/><ellipse cx="332.0" cy="393.05" rx="19.8" ry="10.20" transform="rotate(4 332.0 393.05)"/><ellipse cx="332.0" cy="392.30" rx="19.8" ry="10.20" transform="rotate(4 332.0 392.30)"/><ellipse cx="332.0" cy="391.55" rx="19.8" ry="10.20" transform="rotate(4 332.0 391.55)"/><ellipse cx="332.0" cy="390.80" rx="19.8" ry="10.20" transform="rotate(4 332.0 390.80)"/><ellipse cx="332.0" cy="390.05" rx="19.8" ry="10.20" transform="rotate(4 332.0 390.05)"/><ellipse cx="332.0" cy="389.30" rx="19.8" ry="10.20" transform="rotate(4 332.0 389.30)"/><ellipse cx="332.0" cy="388.55" rx="19.8" ry="10.20" transform="rotate(4 332.0 388.55)"/></g></g>
<ellipse cx="332.0" cy="387.8" rx="20.3" ry="10.6" transform="rotate(4 332.0 387.8)" fill="#0000f5"/>
<g filter="url(#b2)">
<ellipse cx="199.7" cy="468.5" rx="21.0" ry="11.0" transform="rotate(4 198.7 466.7)" fill="#0000a8" opacity=".6"/>
</g><g filter="url(#b3)">
<g fill="url(#gs)"><ellipse cx="198.7" cy="466.70" rx="19.8" ry="10.20" transform="rotate(4 198.7 466.70)"/><ellipse cx="198.7" cy="465.62" rx="19.8" ry="10.20" transform="rotate(4 198.7 465.62)"/><ellipse cx="198.7" cy="464.54" rx="19.8" ry="10.20" transform="rotate(4 198.7 464.54)"/><ellipse cx="198.7" cy="463.46" rx="19.8" ry="10.20" transform="rotate(4 198.7 463.46)"/><ellipse cx="198.7" cy="462.38" rx="19.8" ry="10.20" transform="rotate(4 198.7 462.38)"/><ellipse cx="198.7" cy="461.30" rx="19.8" ry="10.20" transform="rotate(4 198.7 461.30)"/><ellipse cx="198.7" cy="460.22" rx="19.8" ry="10.20" transform="rotate(4 198.7 460.22)"/><ellipse cx="198.7" cy="459.14" rx="19.8" ry="10.20" transform="rotate(4 198.7 459.14)"/><ellipse cx="198.7" cy="458.06" rx="19.8" ry="10.20" transform="rotate(4 198.7 458.06)"/><ellipse cx="198.7" cy="456.98" rx="19.8" ry="10.20" transform="rotate(4 198.7 456.98)"/></g></g>
<ellipse cx="198.7" cy="455.9" rx="20.3" ry="10.6" transform="rotate(4 198.7 455.9)" fill="#0000f5"/>
<g filter="url(#b2)">
<ellipse cx="260.0" cy="453.5" rx="21.0" ry="11.0" transform="rotate(4 259.0 451.7)" fill="#0000a8" opacity=".6"/>
</g><g filter="url(#b3)">
<g fill="url(#gs)"><ellipse cx="259.0" cy="451.70" rx="19.8" ry="10.20" transform="rotate(4 259.0 451.70)"/><ellipse cx="259.0" cy="450.62" rx="19.8" ry="10.20" transform="rotate(4 259.0 450.62)"/><ellipse cx="259.0" cy="449.54" rx="19.8" ry="10.20" transform="rotate(4 259.0 449.54)"/><ellipse cx="259.0" cy="448.46" rx="19.8" ry="10.20" transform="rotate(4 259.0 448.46)"/><ellipse cx="259.0" cy="447.38" rx="19.8" ry="10.20" transform="rotate(4 259.0 447.38)"/><ellipse cx="259.0" cy="446.30" rx="19.8" ry="10.20" transform="rotate(4 259.0 446.30)"/><ellipse cx="259.0" cy="445.22" rx="19.8" ry="10.20" transform="rotate(4 259.0 445.22)"/><ellipse cx="259.0" cy="444.14" rx="19.8" ry="10.20" transform="rotate(4 259.0 444.14)"/><ellipse cx="259.0" cy="443.06" rx="19.8" ry="10.20" transform="rotate(4 259.0 443.06)"/><ellipse cx="259.0" cy="441.98" rx="19.8" ry="10.20" transform="rotate(4 259.0 441.98)"/></g></g>
<ellipse cx="259.0" cy="440.9" rx="20.3" ry="10.6" transform="rotate(4 259.0 440.9)" fill="#0000f5"/>
<g filter="url(#b2)">
<ellipse cx="318.7" cy="438.7" rx="21.0" ry="11.0" transform="rotate(4 317.7 436.9)" fill="#0000a8" opacity=".6"/>
</g><g filter="url(#b3)">
<g fill="url(#gs)"><ellipse cx="317.7" cy="436.90" rx="19.8" ry="10.20" transform="rotate(4 317.7 436.90)"/><ellipse cx="317.7" cy="435.82" rx="19.8" ry="10.20" transform="rotate(4 317.7 435.82)"/><ellipse cx="317.7" cy="434.74" rx="19.8" ry="10.20" transform="rotate(4 317.7 434.74)"/><ellipse cx="317.7" cy="433.66" rx="19.8" ry="10.20" transform="rotate(4 317.7 433.66)"/><ellipse cx="317.7" cy="432.58" rx="19.8" ry="10.20" transform="rotate(4 317.7 432.58)"/><ellipse cx="317.7" cy="431.50" rx="19.8" ry="10.20" transform="rotate(4 317.7 431.50)"/><ellipse cx="317.7" cy="430.42" rx="19.8" ry="10.20" transform="rotate(4 317.7 430.42)"/><ellipse cx="317.7" cy="429.34" rx="19.8" ry="10.20" transform="rotate(4 317.7 429.34)"/><ellipse cx="317.7" cy="428.26" rx="19.8" ry="10.20" transform="rotate(4 317.7 428.26)"/><ellipse cx="317.7" cy="427.18" rx="19.8" ry="10.20" transform="rotate(4 317.7 427.18)"/></g></g>
<ellipse cx="317.7" cy="426.1" rx="20.3" ry="10.6" transform="rotate(4 317.7 426.1)" fill="#0000f5"/>
<g filter="url(#b2)">
<ellipse cx="376.5" cy="422.7" rx="21.0" ry="11.0" transform="rotate(4 375.5 420.9)" fill="#0000a8" opacity=".6"/>
</g><g filter="url(#b3)">
<g fill="url(#gs)"><ellipse cx="375.5" cy="420.90" rx="19.8" ry="10.20" transform="rotate(4 375.5 420.90)"/><ellipse cx="375.5" cy="419.82" rx="19.8" ry="10.20" transform="rotate(4 375.5 419.82)"/><ellipse cx="375.5" cy="418.74" rx="19.8" ry="10.20" transform="rotate(4 375.5 418.74)"/><ellipse cx="375.5" cy="417.66" rx="19.8" ry="10.20" transform="rotate(4 375.5 417.66)"/><ellipse cx="375.5" cy="416.58" rx="19.8" ry="10.20" transform="rotate(4 375.5 416.58)"/><ellipse cx="375.5" cy="415.50" rx="19.8" ry="10.20" transform="rotate(4 375.5 415.50)"/><ellipse cx="375.5" cy="414.42" rx="19.8" ry="10.20" transform="rotate(4 375.5 414.42)"/><ellipse cx="375.5" cy="413.34" rx="19.8" ry="10.20" transform="rotate(4 375.5 413.34)"/><ellipse cx="375.5" cy="412.26" rx="19.8" ry="10.20" transform="rotate(4 375.5 412.26)"/><ellipse cx="375.5" cy="411.18" rx="19.8" ry="10.20" transform="rotate(4 375.5 411.18)"/></g></g>
<ellipse cx="375.5" cy="410.1" rx="20.3" ry="10.6" transform="rotate(4 375.5 410.1)" fill="#0000f5"/>
<g filter="url(#b3)"><line x1="188.5" y1="567.0" x2="352.0" y2="521.3" stroke="#2020ff" stroke-opacity="0.22" stroke-width="2.6"/></g>
<polygon points="56.3,380.6 278.8,324.1 352.0,368.6 126.8,431.6" fill="#0000f1" stroke="#0000f1" stroke-width="0.8"/>
<polygon points="56.3,380.6 126.8,431.6 126.8,509.0 56.3,460.4" fill="#0000fe" stroke="#0000fe" stroke-width="0.8"/>
<polygon points="126.8,431.6 352.0,368.6 352.0,454.2 126.8,509.0" fill="#0500a8" stroke="#0500a8" stroke-width="0.8"/>
<polygon points="126.8,431.6 243.5,399.0 243.5,406.0 126.8,438.6" fill="url(#gb)" opacity=".55"/>
<g filter="url(#b2)">
<ellipse cx="96.5" cy="382.4" rx="21.0" ry="11.0" transform="rotate(4 95.5 380.6)" fill="#0000a8" opacity=".6"/>
</g><g filter="url(#b3)">
<g fill="url(#gs)"><ellipse cx="95.5" cy="380.60" rx="19.8" ry="10.20" transform="rotate(4 95.5 380.60)"/><ellipse cx="95.5" cy="379.85" rx="19.8" ry="10.20" transform="rotate(4 95.5 379.85)"/><ellipse cx="95.5" cy="379.10" rx="19.8" ry="10.20" transform="rotate(4 95.5 379.10)"/><ellipse cx="95.5" cy="378.35" rx="19.8" ry="10.20" transform="rotate(4 95.5 378.35)"/><ellipse cx="95.5" cy="377.60" rx="19.8" ry="10.20" transform="rotate(4 95.5 377.60)"/><ellipse cx="95.5" cy="376.85" rx="19.8" ry="10.20" transform="rotate(4 95.5 376.85)"/><ellipse cx="95.5" cy="376.10" rx="19.8" ry="10.20" transform="rotate(4 95.5 376.10)"/><ellipse cx="95.5" cy="375.35" rx="19.8" ry="10.20" transform="rotate(4 95.5 375.35)"/><ellipse cx="95.5" cy="374.60" rx="19.8" ry="10.20" transform="rotate(4 95.5 374.60)"/><ellipse cx="95.5" cy="373.85" rx="19.8" ry="10.20" transform="rotate(4 95.5 373.85)"/></g></g>
<ellipse cx="95.5" cy="373.1" rx="20.3" ry="10.6" transform="rotate(4 95.5 373.1)" fill="#0000f5"/>
<g filter="url(#b2)">
<ellipse cx="156.8" cy="367.3" rx="21.0" ry="11.0" transform="rotate(4 155.8 365.5)" fill="#0000a8" opacity=".6"/>
</g><g filter="url(#b3)">
<g fill="url(#gs)"><ellipse cx="155.8" cy="365.50" rx="19.8" ry="10.20" transform="rotate(4 155.8 365.50)"/><ellipse cx="155.8" cy="364.75" rx="19.8" ry="10.20" transform="rotate(4 155.8 364.75)"/><ellipse cx="155.8" cy="364.00" rx="19.8" ry="10.20" transform="rotate(4 155.8 364.00)"/><ellipse cx="155.8" cy="363.25" rx="19.8" ry="10.20" transform="rotate(4 155.8 363.25)"/><ellipse cx="155.8" cy="362.50" rx="19.8" ry="10.20" transform="rotate(4 155.8 362.50)"/><ellipse cx="155.8" cy="361.75" rx="19.8" ry="10.20" transform="rotate(4 155.8 361.75)"/><ellipse cx="155.8" cy="361.00" rx="19.8" ry="10.20" transform="rotate(4 155.8 361.00)"/><ellipse cx="155.8" cy="360.25" rx="19.8" ry="10.20" transform="rotate(4 155.8 360.25)"/><ellipse cx="155.8" cy="359.50" rx="19.8" ry="10.20" transform="rotate(4 155.8 359.50)"/><ellipse cx="155.8" cy="358.75" rx="19.8" ry="10.20" transform="rotate(4 155.8 358.75)"/></g></g>
<ellipse cx="155.8" cy="358.0" rx="20.3" ry="10.6" transform="rotate(4 155.8 358.0)" fill="#0000f5"/>
<g filter="url(#b2)">
<ellipse cx="214.8" cy="353.4" rx="21.0" ry="11.0" transform="rotate(4 213.8 351.6)" fill="#0000a8" opacity=".6"/>
</g><g filter="url(#b3)">
<g fill="url(#gs)"><ellipse cx="213.8" cy="351.60" rx="19.8" ry="10.20" transform="rotate(4 213.8 351.60)"/><ellipse cx="213.8" cy="350.85" rx="19.8" ry="10.20" transform="rotate(4 213.8 350.85)"/><ellipse cx="213.8" cy="350.10" rx="19.8" ry="10.20" transform="rotate(4 213.8 350.10)"/><ellipse cx="213.8" cy="349.35" rx="19.8" ry="10.20" transform="rotate(4 213.8 349.35)"/><ellipse cx="213.8" cy="348.60" rx="19.8" ry="10.20" transform="rotate(4 213.8 348.60)"/><ellipse cx="213.8" cy="347.85" rx="19.8" ry="10.20" transform="rotate(4 213.8 347.85)"/><ellipse cx="213.8" cy="347.10" rx="19.8" ry="10.20" transform="rotate(4 213.8 347.10)"/><ellipse cx="213.8" cy="346.35" rx="19.8" ry="10.20" transform="rotate(4 213.8 346.35)"/><ellipse cx="213.8" cy="345.60" rx="19.8" ry="10.20" transform="rotate(4 213.8 345.60)"/><ellipse cx="213.8" cy="344.85" rx="19.8" ry="10.20" transform="rotate(4 213.8 344.85)"/></g></g>
<ellipse cx="213.8" cy="344.1" rx="20.3" ry="10.6" transform="rotate(4 213.8 344.1)" fill="#0000f5"/>
<g filter="url(#b2)">
<ellipse cx="271.3" cy="337.8" rx="21.0" ry="11.0" transform="rotate(4 270.3 336.0)" fill="#0000a8" opacity=".6"/>
</g><g filter="url(#b3)">
<g fill="url(#gs)"><ellipse cx="270.3" cy="336.00" rx="19.8" ry="10.20" transform="rotate(4 270.3 336.00)"/><ellipse cx="270.3" cy="335.25" rx="19.8" ry="10.20" transform="rotate(4 270.3 335.25)"/><ellipse cx="270.3" cy="334.50" rx="19.8" ry="10.20" transform="rotate(4 270.3 334.50)"/><ellipse cx="270.3" cy="333.75" rx="19.8" ry="10.20" transform="rotate(4 270.3 333.75)"/><ellipse cx="270.3" cy="333.00" rx="19.8" ry="10.20" transform="rotate(4 270.3 333.00)"/><ellipse cx="270.3" cy="332.25" rx="19.8" ry="10.20" transform="rotate(4 270.3 332.25)"/><ellipse cx="270.3" cy="331.50" rx="19.8" ry="10.20" transform="rotate(4 270.3 331.50)"/><ellipse cx="270.3" cy="330.75" rx="19.8" ry="10.20" transform="rotate(4 270.3 330.75)"/><ellipse cx="270.3" cy="330.00" rx="19.8" ry="10.20" transform="rotate(4 270.3 330.00)"/><ellipse cx="270.3" cy="329.25" rx="19.8" ry="10.20" transform="rotate(4 270.3 329.25)"/></g></g>
<ellipse cx="270.3" cy="328.5" rx="20.3" ry="10.6" transform="rotate(4 270.3 328.5)" fill="#0000f5"/>
<g filter="url(#b2)">
<ellipse cx="138.0" cy="409.2" rx="21.0" ry="11.0" transform="rotate(4 137.0 407.4)" fill="#0000a8" opacity=".6"/>
</g><g filter="url(#b3)">
<g fill="url(#gs)"><ellipse cx="137.0" cy="407.40" rx="19.8" ry="10.20" transform="rotate(4 137.0 407.40)"/><ellipse cx="137.0" cy="406.32" rx="19.8" ry="10.20" transform="rotate(4 137.0 406.32)"/><ellipse cx="137.0" cy="405.24" rx="19.8" ry="10.20" transform="rotate(4 137.0 405.24)"/><ellipse cx="137.0" cy="404.16" rx="19.8" ry="10.20" transform="rotate(4 137.0 404.16)"/><ellipse cx="137.0" cy="403.08" rx="19.8" ry="10.20" transform="rotate(4 137.0 403.08)"/><ellipse cx="137.0" cy="402.00" rx="19.8" ry="10.20" transform="rotate(4 137.0 402.00)"/><ellipse cx="137.0" cy="400.92" rx="19.8" ry="10.20" transform="rotate(4 137.0 400.92)"/><ellipse cx="137.0" cy="399.84" rx="19.8" ry="10.20" transform="rotate(4 137.0 399.84)"/><ellipse cx="137.0" cy="398.76" rx="19.8" ry="10.20" transform="rotate(4 137.0 398.76)"/><ellipse cx="137.0" cy="397.68" rx="19.8" ry="10.20" transform="rotate(4 137.0 397.68)"/></g></g>
<ellipse cx="137.0" cy="396.6" rx="20.3" ry="10.6" transform="rotate(4 137.0 396.6)" fill="#0000f5"/>
<g filter="url(#b2)">
<ellipse cx="198.3" cy="394.2" rx="21.0" ry="11.0" transform="rotate(4 197.3 392.4)" fill="#0000a8" opacity=".6"/>
</g><g filter="url(#b3)">
<g fill="url(#gs)"><ellipse cx="197.3" cy="392.40" rx="19.8" ry="10.20" transform="rotate(4 197.3 392.40)"/><ellipse cx="197.3" cy="391.32" rx="19.8" ry="10.20" transform="rotate(4 197.3 391.32)"/><ellipse cx="197.3" cy="390.24" rx="19.8" ry="10.20" transform="rotate(4 197.3 390.24)"/><ellipse cx="197.3" cy="389.16" rx="19.8" ry="10.20" transform="rotate(4 197.3 389.16)"/><ellipse cx="197.3" cy="388.08" rx="19.8" ry="10.20" transform="rotate(4 197.3 388.08)"/><ellipse cx="197.3" cy="387.00" rx="19.8" ry="10.20" transform="rotate(4 197.3 387.00)"/><ellipse cx="197.3" cy="385.92" rx="19.8" ry="10.20" transform="rotate(4 197.3 385.92)"/><ellipse cx="197.3" cy="384.84" rx="19.8" ry="10.20" transform="rotate(4 197.3 384.84)"/><ellipse cx="197.3" cy="383.76" rx="19.8" ry="10.20" transform="rotate(4 197.3 383.76)"/><ellipse cx="197.3" cy="382.68" rx="19.8" ry="10.20" transform="rotate(4 197.3 382.68)"/></g></g>
<ellipse cx="197.3" cy="381.6" rx="20.3" ry="10.6" transform="rotate(4 197.3 381.6)" fill="#0000f5"/>
<g filter="url(#b2)">
<ellipse cx="257.0" cy="379.4" rx="21.0" ry="11.0" transform="rotate(4 256.0 377.6)" fill="#0000a8" opacity=".6"/>
</g><g filter="url(#b3)">
<g fill="url(#gs)"><ellipse cx="256.0" cy="377.60" rx="19.8" ry="10.20" transform="rotate(4 256.0 377.60)"/><ellipse cx="256.0" cy="376.52" rx="19.8" ry="10.20" transform="rotate(4 256.0 376.52)"/><ellipse cx="256.0" cy="375.44" rx="19.8" ry="10.20" transform="rotate(4 256.0 375.44)"/><ellipse cx="256.0" cy="374.36" rx="19.8" ry="10.20" transform="rotate(4 256.0 374.36)"/><ellipse cx="256.0" cy="373.28" rx="19.8" ry="10.20" transform="rotate(4 256.0 373.28)"/><ellipse cx="256.0" cy="372.20" rx="19.8" ry="10.20" transform="rotate(4 256.0 372.20)"/><ellipse cx="256.0" cy="371.12" rx="19.8" ry="10.20" transform="rotate(4 256.0 371.12)"/><ellipse cx="256.0" cy="370.04" rx="19.8" ry="10.20" transform="rotate(4 256.0 370.04)"/><ellipse cx="256.0" cy="368.96" rx="19.8" ry="10.20" transform="rotate(4 256.0 368.96)"/><ellipse cx="256.0" cy="367.88" rx="19.8" ry="10.20" transform="rotate(4 256.0 367.88)"/></g></g>
<ellipse cx="256.0" cy="366.8" rx="20.3" ry="10.6" transform="rotate(4 256.0 366.8)" fill="#0000f5"/>
<g filter="url(#b2)">
<ellipse cx="314.8" cy="363.4" rx="21.0" ry="11.0" transform="rotate(4 313.8 361.6)" fill="#0000a8" opacity=".6"/>
</g><g filter="url(#b3)">
<g fill="url(#gs)"><ellipse cx="313.8" cy="361.60" rx="19.8" ry="10.20" transform="rotate(4 313.8 361.60)"/><ellipse cx="313.8" cy="360.52" rx="19.8" ry="10.20" transform="rotate(4 313.8 360.52)"/><ellipse cx="313.8" cy="359.44" rx="19.8" ry="10.20" transform="rotate(4 313.8 359.44)"/><ellipse cx="313.8" cy="358.36" rx="19.8" ry="10.20" transform="rotate(4 313.8 358.36)"/><ellipse cx="313.8" cy="357.28" rx="19.8" ry="10.20" transform="rotate(4 313.8 357.28)"/><ellipse cx="313.8" cy="356.20" rx="19.8" ry="10.20" transform="rotate(4 313.8 356.20)"/><ellipse cx="313.8" cy="355.12" rx="19.8" ry="10.20" transform="rotate(4 313.8 355.12)"/><ellipse cx="313.8" cy="354.04" rx="19.8" ry="10.20" transform="rotate(4 313.8 354.04)"/><ellipse cx="313.8" cy="352.96" rx="19.8" ry="10.20" transform="rotate(4 313.8 352.96)"/><ellipse cx="313.8" cy="351.88" rx="19.8" ry="10.20" transform="rotate(4 313.8 351.88)"/></g></g>
<ellipse cx="313.8" cy="350.8" rx="20.3" ry="10.6" transform="rotate(4 313.8 350.8)" fill="#0000f5"/>
<polygon points="173.8,273.3 396.3,216.8 469.5,255.5 244.3,324.3" fill="#0000f1" stroke="#0000f1" stroke-width="0.8"/>
<polygon points="173.8,273.3 244.3,324.3 244.3,404.3 173.8,353.3" fill="#0000fe" stroke="#0000fe" stroke-width="0.8"/>
<polygon points="244.3,324.3 469.5,255.5 469.5,335.2 244.3,404.3" fill="#0500a8" stroke="#0500a8" stroke-width="0.8"/>
<polygon points="244.3,324.3 469.5,255.5 469.5,262.5 244.3,331.3" fill="url(#gb)" opacity=".55"/>
<g filter="url(#b2)">
<ellipse cx="214.0" cy="275.1" rx="21.0" ry="11.0" transform="rotate(4 213.0 273.3)" fill="#0000a8" opacity=".6"/>
</g><g filter="url(#b3)">
<g fill="url(#gs)"><ellipse cx="213.0" cy="273.30" rx="19.8" ry="10.20" transform="rotate(4 213.0 273.30)"/><ellipse cx="213.0" cy="272.55" rx="19.8" ry="10.20" transform="rotate(4 213.0 272.55)"/><ellipse cx="213.0" cy="271.80" rx="19.8" ry="10.20" transform="rotate(4 213.0 271.80)"/><ellipse cx="213.0" cy="271.05" rx="19.8" ry="10.20" transform="rotate(4 213.0 271.05)"/><ellipse cx="213.0" cy="270.30" rx="19.8" ry="10.20" transform="rotate(4 213.0 270.30)"/><ellipse cx="213.0" cy="269.55" rx="19.8" ry="10.20" transform="rotate(4 213.0 269.55)"/><ellipse cx="213.0" cy="268.80" rx="19.8" ry="10.20" transform="rotate(4 213.0 268.80)"/><ellipse cx="213.0" cy="268.05" rx="19.8" ry="10.20" transform="rotate(4 213.0 268.05)"/><ellipse cx="213.0" cy="267.30" rx="19.8" ry="10.20" transform="rotate(4 213.0 267.30)"/><ellipse cx="213.0" cy="266.55" rx="19.8" ry="10.20" transform="rotate(4 213.0 266.55)"/></g></g>
<ellipse cx="213.0" cy="265.8" rx="20.3" ry="10.6" transform="rotate(4 213.0 265.8)" fill="#0000f5"/>
<g filter="url(#b2)">
<ellipse cx="274.3" cy="260.0" rx="21.0" ry="11.0" transform="rotate(4 273.3 258.2)" fill="#0000a8" opacity=".6"/>
</g><g filter="url(#b3)">
<g fill="url(#gs)"><ellipse cx="273.3" cy="258.20" rx="19.8" ry="10.20" transform="rotate(4 273.3 258.20)"/><ellipse cx="273.3" cy="257.45" rx="19.8" ry="10.20" transform="rotate(4 273.3 257.45)"/><ellipse cx="273.3" cy="256.70" rx="19.8" ry="10.20" transform="rotate(4 273.3 256.70)"/><ellipse cx="273.3" cy="255.95" rx="19.8" ry="10.20" transform="rotate(4 273.3 255.95)"/><ellipse cx="273.3" cy="255.20" rx="19.8" ry="10.20" transform="rotate(4 273.3 255.20)"/><ellipse cx="273.3" cy="254.45" rx="19.8" ry="10.20" transform="rotate(4 273.3 254.45)"/><ellipse cx="273.3" cy="253.70" rx="19.8" ry="10.20" transform="rotate(4 273.3 253.70)"/><ellipse cx="273.3" cy="252.95" rx="19.8" ry="10.20" transform="rotate(4 273.3 252.95)"/><ellipse cx="273.3" cy="252.20" rx="19.8" ry="10.20" transform="rotate(4 273.3 252.20)"/><ellipse cx="273.3" cy="251.45" rx="19.8" ry="10.20" transform="rotate(4 273.3 251.45)"/></g></g>
<ellipse cx="273.3" cy="250.7" rx="20.3" ry="10.6" transform="rotate(4 273.3 250.7)" fill="#0000f5"/>
<g filter="url(#b2)">
<ellipse cx="332.3" cy="246.1" rx="21.0" ry="11.0" transform="rotate(4 331.3 244.3)" fill="#0000a8" opacity=".6"/>
</g><g filter="url(#b3)">
<g fill="url(#gs)"><ellipse cx="331.3" cy="244.30" rx="19.8" ry="10.20" transform="rotate(4 331.3 244.30)"/><ellipse cx="331.3" cy="243.55" rx="19.8" ry="10.20" transform="rotate(4 331.3 243.55)"/><ellipse cx="331.3" cy="242.80" rx="19.8" ry="10.20" transform="rotate(4 331.3 242.80)"/><ellipse cx="331.3" cy="242.05" rx="19.8" ry="10.20" transform="rotate(4 331.3 242.05)"/><ellipse cx="331.3" cy="241.30" rx="19.8" ry="10.20" transform="rotate(4 331.3 241.30)"/><ellipse cx="331.3" cy="240.55" rx="19.8" ry="10.20" transform="rotate(4 331.3 240.55)"/><ellipse cx="331.3" cy="239.80" rx="19.8" ry="10.20" transform="rotate(4 331.3 239.80)"/><ellipse cx="331.3" cy="239.05" rx="19.8" ry="10.20" transform="rotate(4 331.3 239.05)"/><ellipse cx="331.3" cy="238.30" rx="19.8" ry="10.20" transform="rotate(4 331.3 238.30)"/><ellipse cx="331.3" cy="237.55" rx="19.8" ry="10.20" transform="rotate(4 331.3 237.55)"/></g></g>
<ellipse cx="331.3" cy="236.8" rx="20.3" ry="10.6" transform="rotate(4 331.3 236.8)" fill="#0000f5"/>
<g filter="url(#b2)">
<ellipse cx="388.8" cy="230.5" rx="21.0" ry="11.0" transform="rotate(4 387.8 228.7)" fill="#0000a8" opacity=".6"/>
</g><g filter="url(#b3)">
<g fill="url(#gs)"><ellipse cx="387.8" cy="228.70" rx="19.8" ry="10.20" transform="rotate(4 387.8 228.70)"/><ellipse cx="387.8" cy="227.95" rx="19.8" ry="10.20" transform="rotate(4 387.8 227.95)"/><ellipse cx="387.8" cy="227.20" rx="19.8" ry="10.20" transform="rotate(4 387.8 227.20)"/><ellipse cx="387.8" cy="226.45" rx="19.8" ry="10.20" transform="rotate(4 387.8 226.45)"/><ellipse cx="387.8" cy="225.70" rx="19.8" ry="10.20" transform="rotate(4 387.8 225.70)"/><ellipse cx="387.8" cy="224.95" rx="19.8" ry="10.20" transform="rotate(4 387.8 224.95)"/><ellipse cx="387.8" cy="224.20" rx="19.8" ry="10.20" transform="rotate(4 387.8 224.20)"/><ellipse cx="387.8" cy="223.45" rx="19.8" ry="10.20" transform="rotate(4 387.8 223.45)"/><ellipse cx="387.8" cy="222.70" rx="19.8" ry="10.20" transform="rotate(4 387.8 222.70)"/><ellipse cx="387.8" cy="221.95" rx="19.8" ry="10.20" transform="rotate(4 387.8 221.95)"/></g></g>
<ellipse cx="387.8" cy="221.2" rx="20.3" ry="10.6" transform="rotate(4 387.8 221.2)" fill="#0000f5"/>
<g filter="url(#b2)">
<ellipse cx="255.5" cy="301.9" rx="21.0" ry="11.0" transform="rotate(4 254.5 300.1)" fill="#0000a8" opacity=".6"/>
</g><g filter="url(#b3)">
<g fill="url(#gs)"><ellipse cx="254.5" cy="300.10" rx="19.8" ry="10.20" transform="rotate(4 254.5 300.10)"/><ellipse cx="254.5" cy="299.02" rx="19.8" ry="10.20" transform="rotate(4 254.5 299.02)"/><ellipse cx="254.5" cy="297.94" rx="19.8" ry="10.20" transform="rotate(4 254.5 297.94)"/><ellipse cx="254.5" cy="296.86" rx="19.8" ry="10.20" transform="rotate(4 254.5 296.86)"/><ellipse cx="254.5" cy="295.78" rx="19.8" ry="10.20" transform="rotate(4 254.5 295.78)"/><ellipse cx="254.5" cy="294.70" rx="19.8" ry="10.20" transform="rotate(4 254.5 294.70)"/><ellipse cx="254.5" cy="293.62" rx="19.8" ry="10.20" transform="rotate(4 254.5 293.62)"/><ellipse cx="254.5" cy="292.54" rx="19.8" ry="10.20" transform="rotate(4 254.5 292.54)"/><ellipse cx="254.5" cy="291.46" rx="19.8" ry="10.20" transform="rotate(4 254.5 291.46)"/><ellipse cx="254.5" cy="290.38" rx="19.8" ry="10.20" transform="rotate(4 254.5 290.38)"/></g></g>
<ellipse cx="254.5" cy="289.3" rx="20.3" ry="10.6" transform="rotate(4 254.5 289.3)" fill="#0000f5"/>
<g filter="url(#b2)">
<ellipse cx="315.8" cy="286.9" rx="21.0" ry="11.0" transform="rotate(4 314.8 285.1)" fill="#0000a8" opacity=".6"/>
</g><g filter="url(#b3)">
<g fill="url(#gs)"><ellipse cx="314.8" cy="285.10" rx="19.8" ry="10.20" transform="rotate(4 314.8 285.10)"/><ellipse cx="314.8" cy="284.02" rx="19.8" ry="10.20" transform="rotate(4 314.8 284.02)"/><ellipse cx="314.8" cy="282.94" rx="19.8" ry="10.20" transform="rotate(4 314.8 282.94)"/><ellipse cx="314.8" cy="281.86" rx="19.8" ry="10.20" transform="rotate(4 314.8 281.86)"/><ellipse cx="314.8" cy="280.78" rx="19.8" ry="10.20" transform="rotate(4 314.8 280.78)"/><ellipse cx="314.8" cy="279.70" rx="19.8" ry="10.20" transform="rotate(4 314.8 279.70)"/><ellipse cx="314.8" cy="278.62" rx="19.8" ry="10.20" transform="rotate(4 314.8 278.62)"/><ellipse cx="314.8" cy="277.54" rx="19.8" ry="10.20" transform="rotate(4 314.8 277.54)"/><ellipse cx="314.8" cy="276.46" rx="19.8" ry="10.20" transform="rotate(4 314.8 276.46)"/><ellipse cx="314.8" cy="275.38" rx="19.8" ry="10.20" transform="rotate(4 314.8 275.38)"/></g></g>
<ellipse cx="314.8" cy="274.3" rx="20.3" ry="10.6" transform="rotate(4 314.8 274.3)" fill="#0000f5"/>
<g filter="url(#b2)">
<ellipse cx="374.5" cy="272.1" rx="21.0" ry="11.0" transform="rotate(4 373.5 270.3)" fill="#0000a8" opacity=".6"/>
</g><g filter="url(#b3)">
<g fill="url(#gs)"><ellipse cx="373.5" cy="270.30" rx="19.8" ry="10.20" transform="rotate(4 373.5 270.30)"/><ellipse cx="373.5" cy="269.22" rx="19.8" ry="10.20" transform="rotate(4 373.5 269.22)"/><ellipse cx="373.5" cy="268.14" rx="19.8" ry="10.20" transform="rotate(4 373.5 268.14)"/><ellipse cx="373.5" cy="267.06" rx="19.8" ry="10.20" transform="rotate(4 373.5 267.06)"/><ellipse cx="373.5" cy="265.98" rx="19.8" ry="10.20" transform="rotate(4 373.5 265.98)"/><ellipse cx="373.5" cy="264.90" rx="19.8" ry="10.20" transform="rotate(4 373.5 264.90)"/><ellipse cx="373.5" cy="263.82" rx="19.8" ry="10.20" transform="rotate(4 373.5 263.82)"/><ellipse cx="373.5" cy="262.74" rx="19.8" ry="10.20" transform="rotate(4 373.5 262.74)"/><ellipse cx="373.5" cy="261.66" rx="19.8" ry="10.20" transform="rotate(4 373.5 261.66)"/><ellipse cx="373.5" cy="260.58" rx="19.8" ry="10.20" transform="rotate(4 373.5 260.58)"/></g></g>
<ellipse cx="373.5" cy="259.5" rx="20.3" ry="10.6" transform="rotate(4 373.5 259.5)" fill="#0000f5"/>
<g filter="url(#b2)">
<ellipse cx="432.3" cy="256.1" rx="21.0" ry="11.0" transform="rotate(4 431.3 254.3)" fill="#0000a8" opacity=".6"/>
</g><g filter="url(#b3)">
<g fill="url(#gs)"><ellipse cx="431.3" cy="254.30" rx="19.8" ry="10.20" transform="rotate(4 431.3 254.30)"/><ellipse cx="431.3" cy="253.22" rx="19.8" ry="10.20" transform="rotate(4 431.3 253.22)"/><ellipse cx="431.3" cy="252.14" rx="19.8" ry="10.20" transform="rotate(4 431.3 252.14)"/><ellipse cx="431.3" cy="251.06" rx="19.8" ry="10.20" transform="rotate(4 431.3 251.06)"/><ellipse cx="431.3" cy="249.98" rx="19.8" ry="10.20" transform="rotate(4 431.3 249.98)"/><ellipse cx="431.3" cy="248.90" rx="19.8" ry="10.20" transform="rotate(4 431.3 248.90)"/><ellipse cx="431.3" cy="247.82" rx="19.8" ry="10.20" transform="rotate(4 431.3 247.82)"/><ellipse cx="431.3" cy="246.74" rx="19.8" ry="10.20" transform="rotate(4 431.3 246.74)"/><ellipse cx="431.3" cy="245.66" rx="19.8" ry="10.20" transform="rotate(4 431.3 245.66)"/><ellipse cx="431.3" cy="244.58" rx="19.8" ry="10.20" transform="rotate(4 431.3 244.58)"/></g></g>
<ellipse cx="431.3" cy="243.5" rx="20.3" ry="10.6" transform="rotate(4 431.3 243.5)" fill="#0000f5"/>
<polygon points="811.2,249.2 881.0,300.0 881.0,616.1 811.2,569.2" fill="#0000fe" stroke="#0000fe" stroke-width="0.8"/>
<polygon points="881.0,300.0 1106.4,231.2 1106.4,554.3 881.0,616.1" fill="#0500a8" stroke="#0500a8" stroke-width="0.8"/>
<polygon points="881.0,300.0 1106.4,231.2 1106.4,238.2 881.0,307.0" fill="url(#gb)" opacity=".55"/>
<line x1="881.0" y1="377.1" x2="1106.4" y2="316.9" stroke="url(#gsm)" stroke-opacity="1" stroke-width="1.7"/>
<line x1="811.2" y1="329.2" x2="881.0" y2="377.1" stroke="#0000d0" stroke-opacity="0.35" stroke-width="1.2"/>
<line x1="881.0" y1="458.6" x2="1106.4" y2="399.4" stroke="url(#gsm)" stroke-opacity="1" stroke-width="1.7"/>
<line x1="811.2" y1="409.2" x2="881.0" y2="458.6" stroke="#0000d0" stroke-opacity="0.35" stroke-width="1.2"/>
<line x1="881.0" y1="538.1" x2="1106.4" y2="474.8" stroke="url(#gsm)" stroke-opacity="1" stroke-width="1.7"/>
<line x1="811.2" y1="489.2" x2="881.0" y2="538.1" stroke="#0000d0" stroke-opacity="0.35" stroke-width="1.2"/>
<polygon points="811.2,249.2 1033.0,192.5 1106.4,231.2 881.0,300.0" fill="#0000f1" stroke="#0000f1" stroke-width="0.8"/>
<g filter="url(#b2)">
<ellipse cx="851.2" cy="250.8" rx="21.0" ry="11.0" transform="rotate(4 850.2 249.0)" fill="#0000a8" opacity=".6"/>
</g><g filter="url(#b3)">
<g fill="url(#gs)"><ellipse cx="850.2" cy="249.00" rx="19.8" ry="10.20" transform="rotate(4 850.2 249.00)"/><ellipse cx="850.2" cy="248.25" rx="19.8" ry="10.20" transform="rotate(4 850.2 248.25)"/><ellipse cx="850.2" cy="247.50" rx="19.8" ry="10.20" transform="rotate(4 850.2 247.50)"/><ellipse cx="850.2" cy="246.75" rx="19.8" ry="10.20" transform="rotate(4 850.2 246.75)"/><ellipse cx="850.2" cy="246.00" rx="19.8" ry="10.20" transform="rotate(4 850.2 246.00)"/><ellipse cx="850.2" cy="245.25" rx="19.8" ry="10.20" transform="rotate(4 850.2 245.25)"/><ellipse cx="850.2" cy="244.50" rx="19.8" ry="10.20" transform="rotate(4 850.2 244.50)"/><ellipse cx="850.2" cy="243.75" rx="19.8" ry="10.20" transform="rotate(4 850.2 243.75)"/><ellipse cx="850.2" cy="243.00" rx="19.8" ry="10.20" transform="rotate(4 850.2 243.00)"/><ellipse cx="850.2" cy="242.25" rx="19.8" ry="10.20" transform="rotate(4 850.2 242.25)"/></g></g>
<ellipse cx="850.2" cy="241.5" rx="20.3" ry="10.6" transform="rotate(4 850.2 241.5)" fill="#0000f5"/>
<g filter="url(#b2)">
<ellipse cx="911.5" cy="235.7" rx="21.0" ry="11.0" transform="rotate(4 910.5 233.9)" fill="#0000a8" opacity=".6"/>
</g><g filter="url(#b3)">
<g fill="url(#gs)"><ellipse cx="910.5" cy="233.90" rx="19.8" ry="10.20" transform="rotate(4 910.5 233.90)"/><ellipse cx="910.5" cy="233.15" rx="19.8" ry="10.20" transform="rotate(4 910.5 233.15)"/><ellipse cx="910.5" cy="232.40" rx="19.8" ry="10.20" transform="rotate(4 910.5 232.40)"/><ellipse cx="910.5" cy="231.65" rx="19.8" ry="10.20" transform="rotate(4 910.5 231.65)"/><ellipse cx="910.5" cy="230.90" rx="19.8" ry="10.20" transform="rotate(4 910.5 230.90)"/><ellipse cx="910.5" cy="230.15" rx="19.8" ry="10.20" transform="rotate(4 910.5 230.15)"/><ellipse cx="910.5" cy="229.40" rx="19.8" ry="10.20" transform="rotate(4 910.5 229.40)"/><ellipse cx="910.5" cy="228.65" rx="19.8" ry="10.20" transform="rotate(4 910.5 228.65)"/><ellipse cx="910.5" cy="227.90" rx="19.8" ry="10.20" transform="rotate(4 910.5 227.90)"/><ellipse cx="910.5" cy="227.15" rx="19.8" ry="10.20" transform="rotate(4 910.5 227.15)"/></g></g>
<ellipse cx="910.5" cy="226.4" rx="20.3" ry="10.6" transform="rotate(4 910.5 226.4)" fill="#0000f5"/>
<g filter="url(#b2)">
<ellipse cx="969.5" cy="221.8" rx="21.0" ry="11.0" transform="rotate(4 968.5 220.0)" fill="#0000a8" opacity=".6"/>
</g><g filter="url(#b3)">
<g fill="url(#gs)"><ellipse cx="968.5" cy="220.00" rx="19.8" ry="10.20" transform="rotate(4 968.5 220.00)"/><ellipse cx="968.5" cy="219.25" rx="19.8" ry="10.20" transform="rotate(4 968.5 219.25)"/><ellipse cx="968.5" cy="218.50" rx="19.8" ry="10.20" transform="rotate(4 968.5 218.50)"/><ellipse cx="968.5" cy="217.75" rx="19.8" ry="10.20" transform="rotate(4 968.5 217.75)"/><ellipse cx="968.5" cy="217.00" rx="19.8" ry="10.20" transform="rotate(4 968.5 217.00)"/><ellipse cx="968.5" cy="216.25" rx="19.8" ry="10.20" transform="rotate(4 968.5 216.25)"/><ellipse cx="968.5" cy="215.50" rx="19.8" ry="10.20" transform="rotate(4 968.5 215.50)"/><ellipse cx="968.5" cy="214.75" rx="19.8" ry="10.20" transform="rotate(4 968.5 214.75)"/><ellipse cx="968.5" cy="214.00" rx="19.8" ry="10.20" transform="rotate(4 968.5 214.00)"/><ellipse cx="968.5" cy="213.25" rx="19.8" ry="10.20" transform="rotate(4 968.5 213.25)"/></g></g>
<ellipse cx="968.5" cy="212.5" rx="20.3" ry="10.6" transform="rotate(4 968.5 212.5)" fill="#0000f5"/>
<g filter="url(#b2)">
<ellipse cx="1026.0" cy="206.2" rx="21.0" ry="11.0" transform="rotate(4 1025.0 204.4)" fill="#0000a8" opacity=".6"/>
</g><g filter="url(#b3)">
<g fill="url(#gs)"><ellipse cx="1025.0" cy="204.40" rx="19.8" ry="10.20" transform="rotate(4 1025.0 204.40)"/><ellipse cx="1025.0" cy="203.65" rx="19.8" ry="10.20" transform="rotate(4 1025.0 203.65)"/><ellipse cx="1025.0" cy="202.90" rx="19.8" ry="10.20" transform="rotate(4 1025.0 202.90)"/><ellipse cx="1025.0" cy="202.15" rx="19.8" ry="10.20" transform="rotate(4 1025.0 202.15)"/><ellipse cx="1025.0" cy="201.40" rx="19.8" ry="10.20" transform="rotate(4 1025.0 201.40)"/><ellipse cx="1025.0" cy="200.65" rx="19.8" ry="10.20" transform="rotate(4 1025.0 200.65)"/><ellipse cx="1025.0" cy="199.90" rx="19.8" ry="10.20" transform="rotate(4 1025.0 199.90)"/><ellipse cx="1025.0" cy="199.15" rx="19.8" ry="10.20" transform="rotate(4 1025.0 199.15)"/><ellipse cx="1025.0" cy="198.40" rx="19.8" ry="10.20" transform="rotate(4 1025.0 198.40)"/><ellipse cx="1025.0" cy="197.65" rx="19.8" ry="10.20" transform="rotate(4 1025.0 197.65)"/></g></g>
<ellipse cx="1025.0" cy="196.9" rx="20.3" ry="10.6" transform="rotate(4 1025.0 196.9)" fill="#0000f5"/>
<g filter="url(#b2)">
<ellipse cx="892.7" cy="276.1" rx="21.0" ry="11.0" transform="rotate(4 891.7 274.3)" fill="#0000a8" opacity=".6"/>
</g><g filter="url(#b3)">
<g fill="url(#gs)"><ellipse cx="891.7" cy="274.30" rx="19.8" ry="10.20" transform="rotate(4 891.7 274.30)"/><ellipse cx="891.7" cy="273.22" rx="19.8" ry="10.20" transform="rotate(4 891.7 273.22)"/><ellipse cx="891.7" cy="272.14" rx="19.8" ry="10.20" transform="rotate(4 891.7 272.14)"/><ellipse cx="891.7" cy="271.06" rx="19.8" ry="10.20" transform="rotate(4 891.7 271.06)"/><ellipse cx="891.7" cy="269.98" rx="19.8" ry="10.20" transform="rotate(4 891.7 269.98)"/><ellipse cx="891.7" cy="268.90" rx="19.8" ry="10.20" transform="rotate(4 891.7 268.90)"/><ellipse cx="891.7" cy="267.82" rx="19.8" ry="10.20" transform="rotate(4 891.7 267.82)"/><ellipse cx="891.7" cy="266.74" rx="19.8" ry="10.20" transform="rotate(4 891.7 266.74)"/><ellipse cx="891.7" cy="265.66" rx="19.8" ry="10.20" transform="rotate(4 891.7 265.66)"/><ellipse cx="891.7" cy="264.58" rx="19.8" ry="10.20" transform="rotate(4 891.7 264.58)"/></g></g>
<ellipse cx="891.7" cy="263.5" rx="20.3" ry="10.6" transform="rotate(4 891.7 263.5)" fill="#0000f5"/>
<g filter="url(#b2)">
<ellipse cx="953.0" cy="261.1" rx="21.0" ry="11.0" transform="rotate(4 952.0 259.3)" fill="#0000a8" opacity=".6"/>
</g><g filter="url(#b3)">
<g fill="url(#gs)"><ellipse cx="952.0" cy="259.30" rx="19.8" ry="10.20" transform="rotate(4 952.0 259.30)"/><ellipse cx="952.0" cy="258.22" rx="19.8" ry="10.20" transform="rotate(4 952.0 258.22)"/><ellipse cx="952.0" cy="257.14" rx="19.8" ry="10.20" transform="rotate(4 952.0 257.14)"/><ellipse cx="952.0" cy="256.06" rx="19.8" ry="10.20" transform="rotate(4 952.0 256.06)"/><ellipse cx="952.0" cy="254.98" rx="19.8" ry="10.20" transform="rotate(4 952.0 254.98)"/><ellipse cx="952.0" cy="253.90" rx="19.8" ry="10.20" transform="rotate(4 952.0 253.90)"/><ellipse cx="952.0" cy="252.82" rx="19.8" ry="10.20" transform="rotate(4 952.0 252.82)"/><ellipse cx="952.0" cy="251.74" rx="19.8" ry="10.20" transform="rotate(4 952.0 251.74)"/><ellipse cx="952.0" cy="250.66" rx="19.8" ry="10.20" transform="rotate(4 952.0 250.66)"/><ellipse cx="952.0" cy="249.58" rx="19.8" ry="10.20" transform="rotate(4 952.0 249.58)"/></g></g>
<ellipse cx="952.0" cy="248.5" rx="20.3" ry="10.6" transform="rotate(4 952.0 248.5)" fill="#0000f5"/>
<g filter="url(#b2)">
<ellipse cx="1011.7" cy="246.3" rx="21.0" ry="11.0" transform="rotate(4 1010.7 244.5)" fill="#0000a8" opacity=".6"/>
</g><g filter="url(#b3)">
<g fill="url(#gs)"><ellipse cx="1010.7" cy="244.50" rx="19.8" ry="10.20" transform="rotate(4 1010.7 244.50)"/><ellipse cx="1010.7" cy="243.42" rx="19.8" ry="10.20" transform="rotate(4 1010.7 243.42)"/><ellipse cx="1010.7" cy="242.34" rx="19.8" ry="10.20" transform="rotate(4 1010.7 242.34)"/><ellipse cx="1010.7" cy="241.26" rx="19.8" ry="10.20" transform="rotate(4 1010.7 241.26)"/><ellipse cx="1010.7" cy="240.18" rx="19.8" ry="10.20" transform="rotate(4 1010.7 240.18)"/><ellipse cx="1010.7" cy="239.10" rx="19.8" ry="10.20" transform="rotate(4 1010.7 239.10)"/><ellipse cx="1010.7" cy="238.02" rx="19.8" ry="10.20" transform="rotate(4 1010.7 238.02)"/><ellipse cx="1010.7" cy="236.94" rx="19.8" ry="10.20" transform="rotate(4 1010.7 236.94)"/><ellipse cx="1010.7" cy="235.86" rx="19.8" ry="10.20" transform="rotate(4 1010.7 235.86)"/><ellipse cx="1010.7" cy="234.78" rx="19.8" ry="10.20" transform="rotate(4 1010.7 234.78)"/></g></g>
<ellipse cx="1010.7" cy="233.7" rx="20.3" ry="10.6" transform="rotate(4 1010.7 233.7)" fill="#0000f5"/>
<g filter="url(#b2)">
<ellipse cx="1069.5" cy="230.3" rx="21.0" ry="11.0" transform="rotate(4 1068.5 228.5)" fill="#0000a8" opacity=".6"/>
</g><g filter="url(#b3)">
<g fill="url(#gs)"><ellipse cx="1068.5" cy="228.50" rx="19.8" ry="10.20" transform="rotate(4 1068.5 228.50)"/><ellipse cx="1068.5" cy="227.42" rx="19.8" ry="10.20" transform="rotate(4 1068.5 227.42)"/><ellipse cx="1068.5" cy="226.34" rx="19.8" ry="10.20" transform="rotate(4 1068.5 226.34)"/><ellipse cx="1068.5" cy="225.26" rx="19.8" ry="10.20" transform="rotate(4 1068.5 225.26)"/><ellipse cx="1068.5" cy="224.18" rx="19.8" ry="10.20" transform="rotate(4 1068.5 224.18)"/><ellipse cx="1068.5" cy="223.10" rx="19.8" ry="10.20" transform="rotate(4 1068.5 223.10)"/><ellipse cx="1068.5" cy="222.02" rx="19.8" ry="10.20" transform="rotate(4 1068.5 222.02)"/><ellipse cx="1068.5" cy="220.94" rx="19.8" ry="10.20" transform="rotate(4 1068.5 220.94)"/><ellipse cx="1068.5" cy="219.86" rx="19.8" ry="10.20" transform="rotate(4 1068.5 219.86)"/><ellipse cx="1068.5" cy="218.78" rx="19.8" ry="10.20" transform="rotate(4 1068.5 218.78)"/></g></g>
<ellipse cx="1068.5" cy="217.7" rx="20.3" ry="10.6" transform="rotate(4 1068.5 217.7)" fill="#0000f5"/>
<polygon points="606.2,413.2 685.6,410.3 684.8,385.2 737.8,413.6 687.6,445.6 686,420.2 606.4,423" fill="#1212e2"/>
</g>
<g filter="url(#bt)">
<text transform="translate(276.5 361.6) rotate(-14.70)" x="-2.05" y="0" font-size="31" letter-spacing="1.200" fill="#f2f2fa" stroke="#f2f2fa" stroke-width=".7">DISCOVERY</text>
<text transform="translate(148.2 469.2) rotate(-14.90)" x="-2.05" y="0" font-size="31" letter-spacing="1.509" fill="#f2f2fa" stroke="#f2f2fa" stroke-width=".7">EXECUTION</text>
<text transform="translate(214.8 525.9) rotate(-14.60)" x="-2.05" y="0" font-size="31" letter-spacing="2.996" fill="#f2f2fa" stroke="#f2f2fa" stroke-width=".7">LIQUIDITY</text>
<text transform="translate(276.4 591.6) rotate(-14.80)" x="-2.05" y="0" font-size="31" letter-spacing="1.495" fill="#f2f2fa" stroke="#f2f2fa" stroke-width=".7">ISSUANCE</text>
<text transform="translate(906.3 350.5) rotate(-14.60)" x="-2.05" y="0" font-size="31" letter-spacing="1.237" fill="#f2f2fa" stroke="#f2f2fa" stroke-width=".7">DISCOVERY</text>
<text transform="translate(912.6 420.5) rotate(-15.00)" x="-2.05" y="0" font-size="31" letter-spacing="1.209" fill="#f2f2fa" stroke="#f2f2fa" stroke-width=".7">EXECUTION</text>
<text transform="translate(918.9 496.8) rotate(-14.80)" x="-2.05" y="0" font-size="31" letter-spacing="2.671" fill="#f2f2fa" stroke="#f2f2fa" stroke-width=".7">LIQUIDITY</text>
<text transform="translate(927.7 569.0) rotate(-14.90)" x="-2.05" y="0" font-size="31" letter-spacing="1.195" fill="#f2f2fa" stroke="#f2f2fa" stroke-width=".7">ISSUANCE</text>
</g>
</svg></body></html>
